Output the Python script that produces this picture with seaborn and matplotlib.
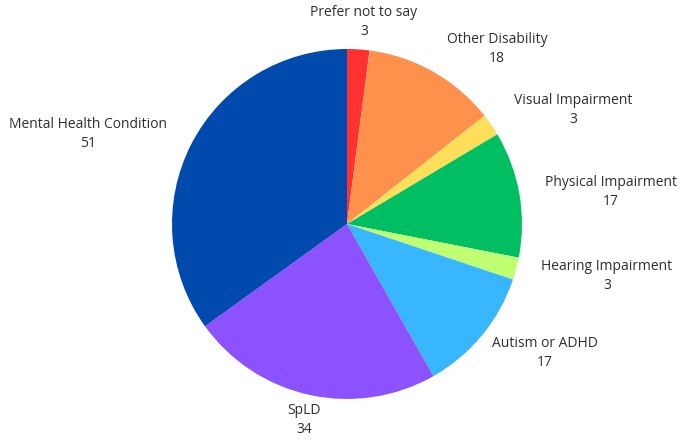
import matplotlib
matplotlib.use("Agg")
import matplotlib.pyplot as plt
import seaborn as sns

# Survey responses by disability category (clockwise from the top)
categories = [
    "Prefer not to say",
    "Other Disability",
    "Visual Impairment",
    "Physical Impairment",
    "Hearing Impairment",
    "Autism or ADHD",
    "SpLD",
    "Mental Health Condition",
]
counts = [3, 18, 3, 17, 3, 17, 34, 51]
hex_colors = ["#FF3131", "#FF914D", "#FFDE59", "#00BF63",
              "#C1FF72", "#38B6FF", "#8C52FF", "#004AAD"]

# Label anchor points (figure pixels, measured from the top-left)
label_px = [(364, 22), (497, 49), (573, 110), (611, 192),
            (607, 276), (545, 353), (304, 420), (88, 134)]

sns.set_theme(style="white")
plt.rcParams["font.family"] = ["Open Sans", "DejaVu Sans"]
palette = sns.color_palette(hex_colors)

W, H, DPI = 683, 443, 100
fig = plt.figure(figsize=(W / DPI, H / DPI), dpi=DPI)
ax = fig.add_axes([0, 0, 1, 1])

cx, cy, r = 347, 224, 175  # pie centre and radius in pixels
ax.pie(counts, colors=palette, startangle=90, counterclock=False,
       radius=1.0, wedgeprops=dict(linewidth=0))

ax.set_xlim(-cx / r, (W - cx) / r)
ax.set_ylim(-(H - cy) / r, cy / r)
ax.set_aspect("equal")
ax.axis("off")

for name, val, (px, py) in zip(categories, counts, label_px):
    ax.text((px - cx) / r, (cy - py) / r, f"{name}\n{val}",
            ha="center", va="center", multialignment="center",
            fontsize=10, color="#2e2e2e", linespacing=1.3)

fig.savefig("out.png", dpi=DPI, facecolor="white")
